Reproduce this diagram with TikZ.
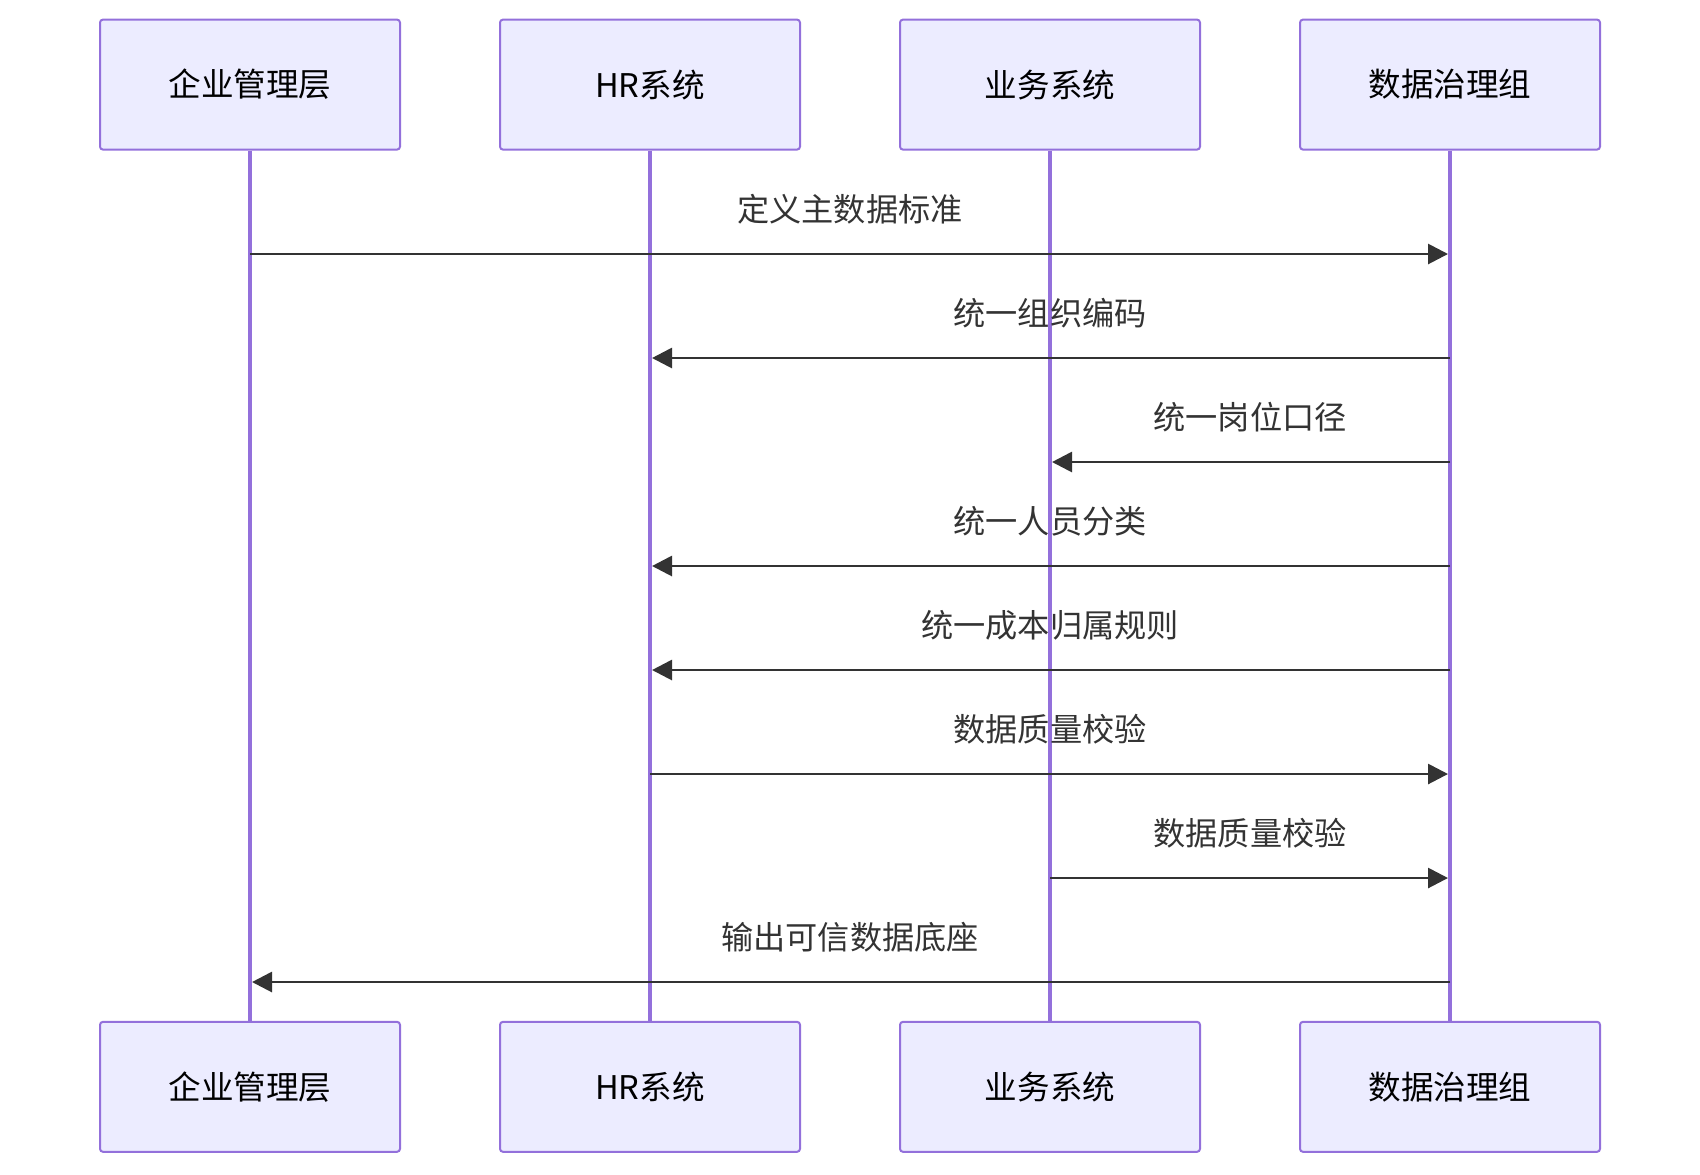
\documentclass[tikz,border=0pt]{standalone}
\usepackage{fontspec}
\setmainfont{Noto Sans CJK SC}
\usetikzlibrary{arrows.meta}
\definecolor{boxfill}{HTML}{ECECFF}
\definecolor{boxline}{HTML}{9370DB}
\definecolor{msgcol}{HTML}{333333}
\tikzset{
  actor/.style={draw=boxline, fill=boxfill, line width=1pt, rounded corners=1.5pt,
    minimum width=150pt, minimum height=65pt, inner sep=0pt,
    font=\fontsize{16.3}{19}\selectfont, text=black},
  lifeline/.style={draw=boxline, line width=1.6pt},
  msg/.style={draw=msgcol, line width=1.4pt, -{Triangle[length=10pt,width=10pt]}},
  msglabel/.style={font=\fontsize{16.1}{19}\selectfont, text=msgcol, inner sep=0pt}
}
\newcommand{\lowered}[1]{\raisebox{-1pt}{#1}}
\begin{document}
\begin{tikzpicture}[x=0.5pt,y=-0.5pt]
\useasboundingbox (0,0) rectangle (1700,1174);
% actors top
\node[actor] (tA) at (250,84.6) {\lowered{企业管理层}};
\node[actor] (tB) at (650,84.6) {\lowered{HR系统}};
\node[actor] (tC) at (1050,84.6) {\lowered{业务系统}};
\node[actor] (tD) at (1450,84.6) {\lowered{数据治理组}};
% actors bottom
\node[actor] (bA) at (250,1086.8) {\lowered{企业管理层}};
\node[actor] (bB) at (650,1086.8) {\lowered{HR系统}};
\node[actor] (bC) at (1050,1086.8) {\lowered{业务系统}};
\node[actor] (bD) at (1450,1086.8) {\lowered{数据治理组}};
% lifelines
\foreach \n in {A,B,C,D} { \draw[lifeline] (t\n.south) -- (b\n.north); }
% message anchor coordinates
\coordinate (A1) at (250,254);  \coordinate (D1) at (1450,254);
\coordinate (B2) at (650,358);  \coordinate (D2) at (1450,358);
\coordinate (C3) at (1050,462); \coordinate (D3) at (1450,462);
\coordinate (B4) at (650,566);  \coordinate (D4) at (1450,566);
\coordinate (B5) at (650,670);  \coordinate (D5) at (1450,670);
\coordinate (B6) at (650,774);  \coordinate (D6) at (1450,774);
\coordinate (C7) at (1050,878); \coordinate (D7) at (1450,878);
\coordinate (A8) at (250,982);  \coordinate (D8) at (1450,982);
% messages
\draw[msg] (A1) -- ([xshift=-1pt]D1);
\node[msglabel] (l1) at (850,209) {定义主数据标准};
\draw[msg] (D2) -- ([xshift=1pt]B2);
\node[msglabel] (l2) at (1050,313) {统一组织编码};
\draw[msg] (D3) -- ([xshift=1pt]C3);
\node[msglabel] (l3) at (1250,417) {统一岗位口径};
\draw[msg] (D4) -- ([xshift=1pt]B4);
\node[msglabel] (l4) at (1050,521) {统一人员分类};
\draw[msg] (D5) -- ([xshift=1pt]B5);
\node[msglabel] (l5) at (1050,625) {统一成本归属规则};
\draw[msg] (B6) -- ([xshift=-1pt]D6);
\node[msglabel] (l6) at (1050,729) {数据质量校验};
\draw[msg] (C7) -- ([xshift=-1pt]D7);
\node[msglabel] (l7) at (1250,833) {数据质量校验};
\draw[msg] (D8) -- ([xshift=1pt]A8);
\node[msglabel] (l8) at (850,937) {输出可信数据底座};
\end{tikzpicture}
\end{document}
